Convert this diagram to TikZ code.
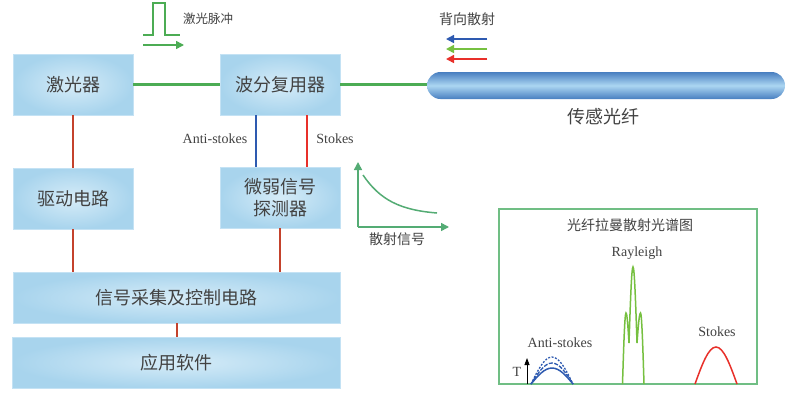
\documentclass[tikz,border=0pt]{standalone}
\usepackage{fontspec}
\setmainfont{Liberation Serif}
\newfontfamily\cjk{Noto Sans CJK SC}
\usetikzlibrary{arrows.meta,calc}
\definecolor{boxin}{RGB}{214,236,248}
\definecolor{boxout}{RGB}{168,212,237}
\definecolor{boxedge}{RGB}{196,226,244}
\definecolor{txt}{RGB}{66,66,66}
\definecolor{redc}{RGB}{196,66,44}
\definecolor{stokesred}{RGB}{232,48,42}
\definecolor{bluec}{RGB}{46,90,176}
\definecolor{greenc}{RGB}{76,172,84}
\definecolor{tealg}{RGB}{84,172,116}
\definecolor{specg}{RGB}{112,190,132}
\definecolor{rayg}{RGB}{118,192,64}
\definecolor{fibd}{RGB}{72,126,192}
\definecolor{fibl}{RGB}{172,214,242}
\tikzset{
  box/.style={rectangle, inner color=boxin, outer color=boxout, draw=boxedge, line width=0.6pt,
    text=txt, font=\fontsize{18}{22}\selectfont\cjk, align=center, inner sep=0pt},
  redline/.style={draw=redc, line width=2pt},
  greenline/.style={draw=greenc, line width=2.2pt},
  lbl/.style={text=txt, font=\fontsize{14}{16}\selectfont, inner sep=0pt},
  cjklbl/.style={text=txt, font=\fontsize{14}{16}\selectfont\cjk, inner sep=0pt},
  tip/.style={-{Triangle[length=8pt,width=8pt]}},
}
\begin{document}
\begin{tikzpicture}[x=1pt,y=-1pt]
\useasboundingbox[fill=white] (0,0) rectangle (794,410);

% blocks
\node[box, minimum width=120, minimum height=61] (laser) at (73,84.5) {激光器};
\node[box, minimum width=120, minimum height=61] (wdm) at (280,84.5) {波分复用器};
\node[box, minimum width=120, minimum height=61] (driver) at (73,198.5) {驱动电路};
\node[box, minimum width=120, minimum height=61] (det) at (280,197.5) {微弱信号\\探测器};
\node[box, minimum width=327, minimum height=51] (acq) at (176.5,297.5) {信号采集及控制电路};
\node[box, minimum width=328, minimum height=51] (app) at (176,362.5) {应用软件};

% fiber
\node[rectangle, rounded corners=13.5pt, minimum width=358, minimum height=27, inner sep=0pt,
  top color=fibd, bottom color=fibd, middle color=fibl] (fiber) at (606,85.5) {};
\node[text=txt, font=\fontsize{18}{20}\selectfont\cjk, inner sep=0pt] (fiberlbl) at (603,117) {传感光纤};

% connectors
\draw[greenline] (laser.east) -- (wdm.west);
\draw[greenline] (wdm.east) -- (wdm.east -| fiber.west);
\draw[redline] (laser.south) -- (driver.north);
\draw[draw=bluec, line width=2pt] ($(wdm.south west)!0.3!(wdm.south east)$) -- ($(det.north west)!0.3!(det.north east)$);
\draw[draw=stokesred, line width=2pt] ($(wdm.south west)!0.725!(wdm.south east)$) -- ($(det.north west)!0.725!(det.north east)$);
\draw[redline] (det.south) -- (det.south |- acq.north);
\draw[redline] (driver.south) -- (driver.south |- acq.north);
\draw[redline] (acq.south) -- (acq.south |- app.north);

\node[lbl] (aslbl) at (215,139) {Anti-stokes};
\node[lbl] (slbl) at (335,139) {Stokes};

% laser pulse
\draw[draw=greenc, line width=1.5pt] (143,35) -- (153,35) -- (153,3) -- (165,3) -- (165,35) -- (180,35);
\coordinate (pa) at (143,45);
\coordinate (pb) at (184,45);
\draw[draw=greenc, fill=greenc, line width=1.5pt, tip] (pa) -- (pb);
\node[text=txt, font=\fontsize{12.5}{14}\selectfont\cjk, inner sep=0pt] (pulselbl) at (208,19) {激光脉冲};

% backscatter
\node[cjklbl] (bslbl) at (467,19) {背向散射};
\coordinate (b1) at (487,39); \coordinate (b1t) at (446,39);
\coordinate (b2) at (487,49); \coordinate (b2t) at (446,49);
\coordinate (b3) at (487,59); \coordinate (b3t) at (446,59);
\draw[draw=bluec, fill=bluec, line width=1.5pt, tip] (b1) -- (b1t);
\draw[draw=rayg, fill=rayg, line width=1.5pt, tip] (b2) -- (b2t);
\draw[draw=stokesred, fill=stokesred, line width=1.5pt, tip] (b3) -- (b3t);

% scatter signal plot
\coordinate (o) at (358,227);
\coordinate (yax) at (358,162);
\coordinate (xax) at (449,227);
\draw[draw=tealg, fill=tealg, line width=1.5pt, tip] (o) -- (yax);
\draw[draw=tealg, fill=tealg, line width=1.5pt, tip] (o) -- (xax);
\draw[draw=tealg, line width=1.5pt] (363,175) .. controls (380,200) and (400,210) .. (437,213);
\node[cjklbl] (siglbl) at (397,239) {散射信号};

% spectrum panel
\node[rectangle, draw=specg, line width=1.4pt, minimum width=258, minimum height=175, inner sep=0pt] (spec) at (628,296.5) {};
\node[cjklbl] (spectitle) at (630,225) {光纤拉曼散射光谱图};
\node[lbl] (raylbl) at (637,253) {Rayleigh};
\node[lbl] (aslbl2) at (560,343) {Anti-stokes};
\node[lbl] (slbl2) at (717,332) {Stokes};
\node[lbl] (tlbl) at (517,372) {T};
\coordinate (ta) at (527,384);
\coordinate (tb) at (527,358);
\draw[draw=black, fill=black, line width=0.8pt, -{Triangle[length=7pt,width=5pt]}] (ta) -- (tb);

% Rayleigh
\draw[draw=rayg, line width=1.5pt] (622.5,384) sin (626,313) cos (629,343) sin (633,267) cos (637,343) sin (640.5,313) cos (644,384);
% Stokes
\draw[draw=stokesred, line width=1.5pt] (695,384) sin (716,347) cos (737,384);
% Anti-stokes
\draw[draw=bluec, line width=1.5pt] (531,384) sin (552,368) cos (573,384);
\draw[draw=bluec, line width=1.3pt, dash pattern=on 4pt off 1.5pt] (531,384) sin (552,363) cos (573,384);
\draw[draw=bluec, line width=1.3pt, dash pattern=on 2pt off 1.5pt] (531,384) sin (552,357) cos (573,384);
\end{tikzpicture}
\end{document}
